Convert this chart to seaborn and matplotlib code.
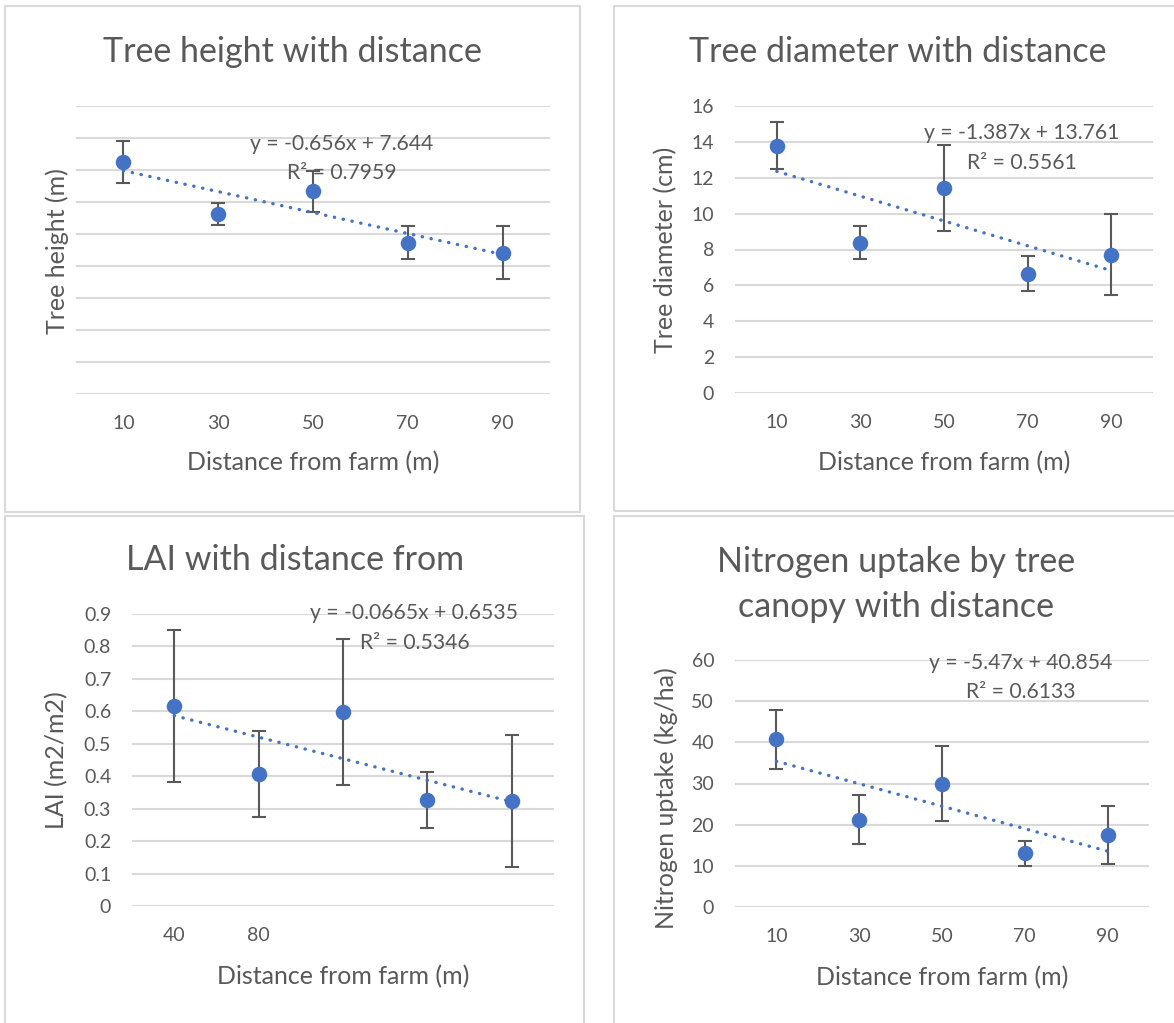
import numpy as np
import matplotlib
matplotlib.use("Agg")
import matplotlib.pyplot as plt
import seaborn as sns
from matplotlib.patches import Rectangle

W, H = 1174, 1023

# shared x categories (Excel category axis -> positions 1..5)
positions = [1, 2, 3, 4, 5]
distance_labels = ["10", "30", "50", "70", "90"]
lai_labels = ["40", "80", "", "", ""]

tree_height = [7.25, 5.62, 6.33, 4.73, 4.42]
tree_height_err = [0.66, 0.35, 0.65, 0.52, 0.84]

tree_diameter = [13.78, 8.37, 11.42, 6.66, 7.72]
tree_diameter_err = [1.32, 0.92, 2.38, 0.97, 2.24]

lai = [0.616, 0.406, 0.598, 0.326, 0.324]
lai_err = [0.235, 0.133, 0.226, 0.086, 0.203]

nitrogen = [40.7, 21.2, 30.0, 13.0, 17.5]
nitrogen_err = [7.2, 5.9, 9.0, 3.1, 7.0]

BLUE = "#4472C4"
TXT = "#595959"
GRID = "#D9D9D9"
ERR = "#595959"

sns.set_theme(style="white")
plt.rcParams["font.family"] = ["Lato", "DejaVu Sans"]


def fx(x):
    return x / W


def fy(y):
    return 1 - y / H


fig = plt.figure(figsize=(W / 100, H / 100), dpi=100)
fig.patch.set_facecolor("white")

# panel frames
for (x0, y0, x1, y1) in [(5, 6, 580, 512), (614, 6, 1180, 511),
                         (5, 516, 584, 1030), (614, 516, 1180, 1030)]:
    fig.patches.append(Rectangle((fx(x0), fy(y1)), fx(x1 - x0), (y1 - y0) / H,
                                 transform=fig.transFigure, fill=False,
                                 edgecolor=GRID, linewidth=1.5))


def panel(box, y, err, ylim, ystep, xlabels, ylab, title_lines, title_xy,
          eq, r2, eq_xy, r2_xy, xlab_xy, ylab_xy, show_yticks=True):
    left, top, right, bottom = box
    ax = fig.add_axes([fx(left), fy(bottom), fx(right - left), (bottom - top) / H])
    ax.errorbar(positions, y, yerr=err, fmt="none", ecolor=ERR, elinewidth=1.5,
                capsize=5, capthick=1.5, zorder=2)
    sns.regplot(x=positions, y=y, ax=ax, scatter=False, ci=None, truncate=True,
                color=BLUE, line_kws=dict(linestyle=(0, (0.1, 2.6)), linewidth=2.4,
                                          dash_capstyle="round", zorder=2))
    sns.scatterplot(x=positions, y=y, ax=ax, s=125, color=BLUE, edgecolor=BLUE,
                    linewidth=0, zorder=3, legend=False)
    ax.set_xlim(0.5, 5.5)
    ax.set_ylim(*ylim)
    ticks = np.arange(ylim[0], ylim[1] + ystep / 2, ystep)
    ax.set_yticks(ticks)
    if show_yticks:
        ax.set_yticklabels([f"{t:g}" for t in ticks])
    else:
        ax.set_yticklabels([])
    ax.set_xticks(positions)
    ax.set_xticklabels(xlabels)
    ax.yaxis.grid(True, color=GRID, linewidth=1.5)
    ax.set_axisbelow(True)
    for s in ax.spines.values():
        s.set_visible(False)
    ax.tick_params(length=0, labelsize=14, labelcolor=TXT, pad=15)
    ax.set_xlabel("Distance from farm (m)", fontsize=18, color=TXT, va="center")
    ax.xaxis.set_label_coords(fx(xlab_xy[0]), fy(xlab_xy[1]), transform=fig.transFigure)
    ax.set_ylabel(ylab, fontsize=18, color=TXT, va="center", ha="center")
    ax.yaxis.set_label_coords(fx(ylab_xy[0]), fy(ylab_xy[1]), transform=fig.transFigure)
    for i, line in enumerate(title_lines):
        fig.text(fx(title_xy[0]), fy(title_xy[1] + 45 * i), line, fontsize=24.5,
                 color=TXT, ha="center", va="center")
    fig.text(fx(eq_xy[0]), fy(eq_xy[1]), eq, fontsize=15.2, color=TXT,
             ha="center", va="center")
    fig.text(fx(r2_xy[0]), fy(r2_xy[1]), r2, fontsize=15.2, color=TXT,
             ha="center", va="center")
    return ax


panel((76, 106, 550, 394), tree_height, tree_height_err, (0, 9), 1,
      distance_labels, "Tree height (m)", ["Tree height with distance"], (292, 52),
      "y = -0.656x + 7.644", "R² = 0.7959", (342, 144), (342, 173),
      (313, 463), (57, 251), show_yticks=False)

panel((735, 106, 1153, 393), tree_diameter, tree_diameter_err, (0, 16), 2,
      distance_labels, "Tree diameter (cm)", ["Tree diameter with distance"], (898, 52),
      "y = -1.387x + 13.761", "R² = 0.5561", (1022, 133), (1022, 163),
      (944, 463), (666, 250))

panel((132, 614, 554, 906), lai, lai_err, (0, 0.9), 0.1,
      lai_labels, "LAI (m2/m2)", ["LAI with distance from"], (295, 560),
      "y = -0.0665x + 0.6535", "R² = 0.5346", (414, 613), (415, 643),
      (343, 977), (57, 760))

panel((735, 660, 1149, 907), nitrogen, nitrogen_err, (0, 60), 10,
      distance_labels, "Nitrogen uptake (kg/ha)",
      ["Nitrogen uptake by tree", "canopy with distance"], (896, 562),
      "y = -5.47x + 40.854", "R² = 0.6133", (1021, 663), (1021, 692),
      (942, 978), (666, 798))

fig.savefig("out.png", dpi=100)
